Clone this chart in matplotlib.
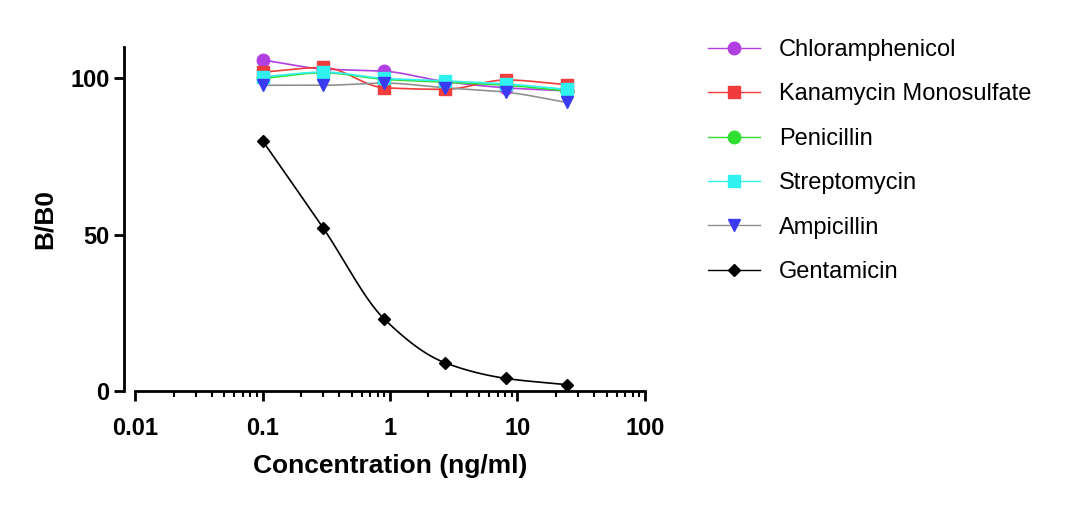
import numpy as np
import matplotlib
matplotlib.use("Agg")
import matplotlib.pyplot as plt
from matplotlib.ticker import LogLocator, NullFormatter, FixedLocator

plt.rcParams['font.family'] = ['Liberation Sans', 'DejaVu Sans']

conc = [0.1, 0.3, 0.9, 2.7, 8.1, 24.3]
chloramphenicol = [105.9, 103.0, 102.3, 99.0, 97.0, 96.0]
kanamycin = [102.0, 103.5, 97.0, 96.5, 99.5, 98.0]
penicillin = [100.0, 101.8, 99.7, 98.8, 97.8, 96.0]
streptomycin = [100.5, 102.0, 100.0, 99.2, 98.2, 96.5]
ampicillin = [97.8, 97.8, 98.5, 97.0, 95.6, 92.3]
gentamicin = [80.0, 52.0, 23.0, 9.0, 4.0, 2.0]

series = [
    ("Chloramphenicol", chloramphenicol, "#b040e0", "o"),
    ("Kanamycin Monosulfate", kanamycin, "#f03c3c", "s"),
    ("Penicillin", penicillin, "#30e030", "o"),
    ("Streptomycin", streptomycin, "#30f0f0", "s"),
    ("Ampicillin", ampicillin, "#3a3af0", "v"),
    ("Gentamicin", gentamicin, "black", "D"),
]
line_colors = ["#b040e0", "#f03c3c", "#30e030", "#30f0f0", "#909090", "black"]

def pchip(x, y, xn):
    x = np.asarray(x, float); y = np.asarray(y, float)
    h = np.diff(x); d = np.diff(y) / h
    m = np.zeros_like(y)
    for k in range(1, len(x) - 1):
        if d[k-1] * d[k] > 0:
            w1 = 2*h[k] + h[k-1]; w2 = h[k] + 2*h[k-1]
            m[k] = (w1 + w2) / (w1/d[k-1] + w2/d[k])
    m[0] = d[0]; m[-1] = d[-1]
    out = np.empty_like(xn)
    for i, xv in enumerate(xn):
        k = min(np.searchsorted(x, xv) - 1, len(x) - 2); k = max(k, 0)
        t = (xv - x[k]) / h[k]
        h00 = 2*t**3 - 3*t**2 + 1; h10 = t**3 - 2*t**2 + t
        h01 = -2*t**3 + 3*t**2; h11 = t**3 - t**2
        out[i] = h00*y[k] + h10*h[k]*m[k] + h01*y[k+1] + h11*h[k]*m[k+1]
    return out

fig = plt.figure(figsize=(10.82, 5.07), dpi=100)
ax = fig.add_axes([0.125, 0.229, 0.471, 0.678])

lx = np.log10(conc)
xs = np.linspace(lx[0], lx[-1], 200)
for (name, vals, col, mk), lc in zip(series, line_colors):
    ys = pchip(lx, vals, xs)
    ax.plot(10**xs, ys, color=lc, lw=1.2, zorder=2)
    ax.plot(conc, vals, linestyle='none', marker=mk, color=col, markersize=9 if mk != 'D' else 6, zorder=3)
    ax.plot([], [], color=lc, lw=1, marker=mk, markerfacecolor=col, markeredgecolor=col,
            markersize=9 if mk != 'D' else 6, label=name)

ax.set_xscale('log')
ax.set_xlim(0.01, 100)
ax.set_ylim(0, 110)
ax.yaxis.set_major_locator(FixedLocator([0, 50, 100]))
ax.xaxis.set_major_locator(LogLocator(base=10))
ax.xaxis.set_minor_locator(LogLocator(base=10, subs=np.arange(2, 10)))
ax.xaxis.set_minor_formatter(NullFormatter())
ax.set_xticks([0.01, 0.1, 1, 10, 100])
ax.set_xticklabels(["0.01", "0.1", "1", "10", "100"])
for s in ['top', 'right']:
    ax.spines[s].set_visible(False)
ax.spines['left'].set_position(('outward', 8))
for s in ['left', 'bottom']:
    ax.spines[s].set_linewidth(2)
ax.tick_params(axis='both', which='major', width=2, length=7, labelsize=17)
ax.tick_params(axis='x', which='major', pad=12)
ax.tick_params(axis='x', which='minor', width=1.5, length=4)
for t in ax.get_xticklabels() + ax.get_yticklabels():
    t.set_fontweight('bold')
ax.set_xlabel("Concentration (ng/ml)", fontsize=19, fontweight='bold', labelpad=10)
ax.set_ylabel("B/B0", fontsize=19, fontweight='bold', labelpad=10)

fig.legend(loc='upper left', bbox_to_anchor=(0.635, 0.965), frameon=False, fontsize=17,
           handlelength=2.2, labelspacing=0.95)

fig.savefig("out.png", dpi=100)
